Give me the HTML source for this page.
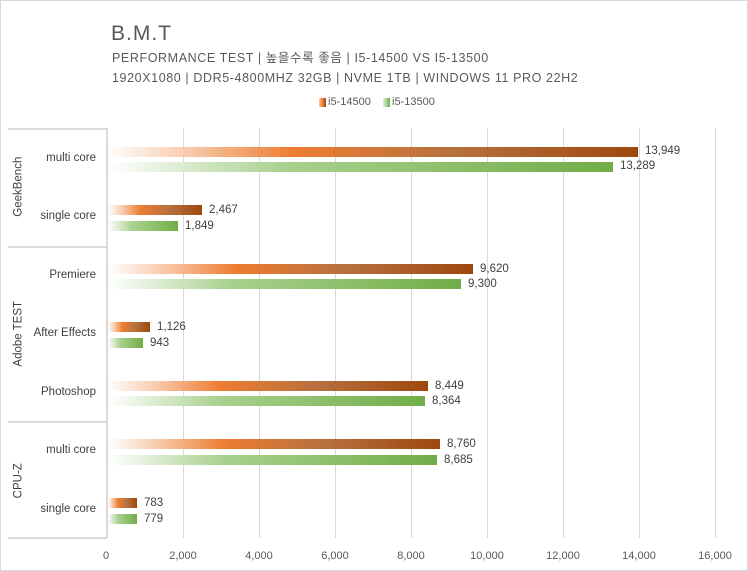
<!DOCTYPE html>
<html><head><meta charset="utf-8"><style>
body{margin:0;background:#fff}
.c{position:relative;width:746px;height:569px;border:1px solid #d9d9d9;background:#fff;font-family:"Liberation Sans","Noto Sans CJK KR",sans-serif;color:#595959;overflow:hidden}
.c div{line-height:1}
.t{position:absolute;white-space:nowrap}
.bo{position:absolute;height:10px;background:linear-gradient(to right,rgba(255,255,255,0) 0%,#F8CBAD 15%,#ED7D31 35%,#B7703F 65%,#9E480E 100%)}
.bg{position:absolute;height:10px;background:linear-gradient(to right,rgba(255,255,255,0) 0%,#E2EFDA 12%,#A9D18E 35%,#70AD47 100%)}
.v{position:absolute;font-size:11.5px;color:#404040}
.cat{position:absolute;font-size:11.5px;color:#404040;text-align:right;width:90px;left:5px}
.g{position:absolute;top:127px;height:410px;width:1px;background:#d9d9d9}
.h{position:absolute;left:7px;width:99px;height:2px;background:#d9d9d9}
.grp{position:absolute;font-size:11.5px;color:#404040;transform:rotate(-90deg);transform-origin:center;white-space:nowrap}
.x{position:absolute;top:550px;font-size:11px;color:#595959;width:50px;text-align:center}
</style></head><body><div class="c">
<div class="t" style="left:110px;top:22px;font-size:21px;letter-spacing:1px">B.M.T</div>
<div class="t" style="left:111px;top:51px;font-size:12.5px;letter-spacing:0.6px">PERFORMANCE TEST | 높을수록 좋음 | I5-14500 VS I5-13500</div>
<div class="t" style="left:111px;top:71px;font-size:12.5px;letter-spacing:0.6px">1920X1080 | DDR5-4800MHZ 32GB | NVME 1TB | WINDOWS 11 PRO 22H2</div>
<div style="position:absolute;left:318px;top:97px;width:7px;height:9px;background:linear-gradient(to right,#F8CBAD,#ED7D31,#9E480E)"></div>
<div class="t" style="left:327px;top:96px;font-size:11px">i5-14500</div>
<div style="position:absolute;left:382px;top:97px;width:7px;height:9px;background:linear-gradient(to right,#E2EFDA,#70AD47)"></div>
<div class="t" style="left:391px;top:96px;font-size:11px">i5-13500</div>

<div class="g" style="left:182px"></div><div class="g" style="left:258px"></div><div class="g" style="left:334px"></div><div class="g" style="left:410px"></div><div class="g" style="left:486px"></div><div class="g" style="left:562px"></div><div class="g" style="left:638px"></div><div class="g" style="left:714px"></div>
<div style="position:absolute;left:105px;top:127px;width:2px;height:410px;background:#d9d9d9"></div>
<div class="h" style="top:127px"></div><div class="h" style="top:245px"></div><div class="h" style="top:420px"></div><div class="h" style="top:536px"></div>

<div class="grp" style="left:-12px;top:180px;width:60px;text-align:center">GeekBench</div>
<div class="grp" style="left:-17px;top:327px;width:70px;text-align:center">Adobe TEST</div>
<div class="grp" style="left:-2px;top:474px;width:40px;text-align:center">CPU-Z</div>

<div class="cat" style="top:152px">multi core</div>
<div class="cat" style="top:210px">single core</div>
<div class="cat" style="top:269px">Premiere</div>
<div class="cat" style="top:327px">After Effects</div>
<div class="cat" style="top:386px">Photoshop</div>
<div class="cat" style="top:444px">multi core</div>
<div class="cat" style="top:503px">single core</div>

<div class="bo" style="left:107px;top:146px;width:530px"></div><div class="v" style="left:644px;top:145px">13,949</div>
<div class="bg" style="left:107px;top:161px;width:505px"></div><div class="v" style="left:619px;top:160px">13,289</div>
<div class="bo" style="left:107px;top:204px;width:94px"></div><div class="v" style="left:208px;top:204px">2,467</div>
<div class="bg" style="left:107px;top:220px;width:70px"></div><div class="v" style="left:184px;top:220px">1,849</div>
<div class="bo" style="left:107px;top:263px;width:365px"></div><div class="v" style="left:479px;top:263px">9,620</div>
<div class="bg" style="left:107px;top:278px;width:353px"></div><div class="v" style="left:467px;top:278px">9,300</div>
<div class="bo" style="left:107px;top:321px;width:42px"></div><div class="v" style="left:156px;top:321px">1,126</div>
<div class="bg" style="left:107px;top:337px;width:35px"></div><div class="v" style="left:149px;top:337px">943</div>
<div class="bo" style="left:107px;top:380px;width:320px"></div><div class="v" style="left:434px;top:380px">8,449</div>
<div class="bg" style="left:107px;top:395px;width:317px"></div><div class="v" style="left:431px;top:395px">8,364</div>
<div class="bo" style="left:107px;top:438px;width:332px"></div><div class="v" style="left:446px;top:438px">8,760</div>
<div class="bg" style="left:107px;top:454px;width:329px"></div><div class="v" style="left:443px;top:454px">8,685</div>
<div class="bo" style="left:107px;top:497px;width:29px"></div><div class="v" style="left:143px;top:497px">783</div>
<div class="bg" style="left:107px;top:513px;width:29px"></div><div class="v" style="left:143px;top:513px">779</div>

<div class="x" style="left:80px">0</div><div class="x" style="left:157px">2,000</div><div class="x" style="left:233px">4,000</div><div class="x" style="left:309px">6,000</div><div class="x" style="left:385px">8,000</div><div class="x" style="left:461px">10,000</div><div class="x" style="left:537px">12,000</div><div class="x" style="left:613px">14,000</div><div class="x" style="left:689px">16,000</div>
</div></body></html>
